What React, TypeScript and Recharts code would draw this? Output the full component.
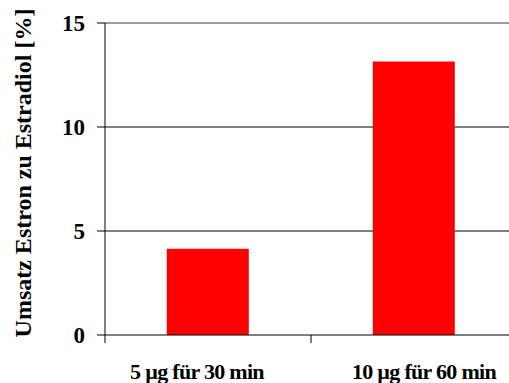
import React from 'react';
import {
  BarChart,
  Bar,
  XAxis,
  YAxis,
  CartesianGrid,
  ReferenceLine,
  Label,
} from 'recharts';

const categories = ['5 µg für 30 min', '10 µg für 60 min'];
const umsatz = [4.15, 13.15];
const yTicks = [0, 5, 10, 15];
const yLabel = 'Umsatz Estron zu Estradiol [%]';

const data = categories.map((name, i) => ({ name, umsatz: umsatz[i] }));

const font = '"Liberation Serif", "Times New Roman", serif';

// category label at band centre, tick mark at the band's left edge
function CategoryTick(props: any) {
  const { x, y, payload, index, visibleTicksCount } = props;
  const half = payload.offset || 0;
  const top = y - 8;
  const last = index === visibleTicksCount - 1;
  // the original labels sit a little apart from the bar centres
  const dx = last ? 10 : -11;
  return (
    <g>
      <line x1={x - half} x2={x - half} y1={top} y2={top + 8} stroke="#000" />
      {last && (
        <line x1={x + half} x2={x + half} y1={top} y2={top + 8} stroke="#000" />
      )}
      <text
        x={x + dx}
        y={top + 44}
        textAnchor="middle"
        fontFamily={font}
        fontWeight="bold"
        fontSize={22}
        letterSpacing={-0.7}
        fill="#000"
      >
        {payload.value}
      </text>
    </g>
  );
}

export default function App() {
  return (
    <div
      style={{
        position: 'fixed',
        left: 0,
        top: 0,
        width: 509,
        height: 383,
        overflow: 'hidden',
        background: '#fff',
      }}
    >
      <BarChart
        width={525}
        height={383}
        data={data}
        margin={{ top: 23, right: 8, left: 0, bottom: 0 }}
        barCategoryGap="30%"
      >
        <CartesianGrid
          horizontal
          vertical={false}
          horizontalValues={[5, 10]}
          stroke="#000"
          strokeDasharray="0"
        />
        <ReferenceLine y={15} stroke="#9a9a9a" strokeWidth={2} />
        <XAxis
          dataKey="name"
          axisLine={{ stroke: '#000' }}
          tickLine={false}
          tick={<CategoryTick />}
          height={48}
          interval={0}
        />
        <YAxis
          domain={[0, 15]}
          ticks={yTicks}
          width={105}
          axisLine={{ stroke: '#000' }}
          tickLine={{ stroke: '#000' }}
          tickSize={8}
          tickMargin={12}
          tick={{
            fill: '#000',
            fontFamily: font,
            fontWeight: 'bold',
            fontSize: 23,
          }}
        >
          <Label
            content={({ viewBox }: any) => {
              const cx = viewBox.x + 31;
              const cy = viewBox.y + viewBox.height / 2 - 6;
              return (
                <text
                  x={cx}
                  y={cy}
                  transform={`rotate(-90 ${cx} ${cy})`}
                  textAnchor="middle"
                  fontFamily={font}
                  fontWeight="bold"
                  fontSize={24}
                  fill="#000"
                >
                  {yLabel}
                </text>
              );
            }}
          />
        </YAxis>
        <Bar dataKey="umsatz" fill="#ff0000" isAnimationActive={false} />
      </BarChart>
    </div>
  );
}
